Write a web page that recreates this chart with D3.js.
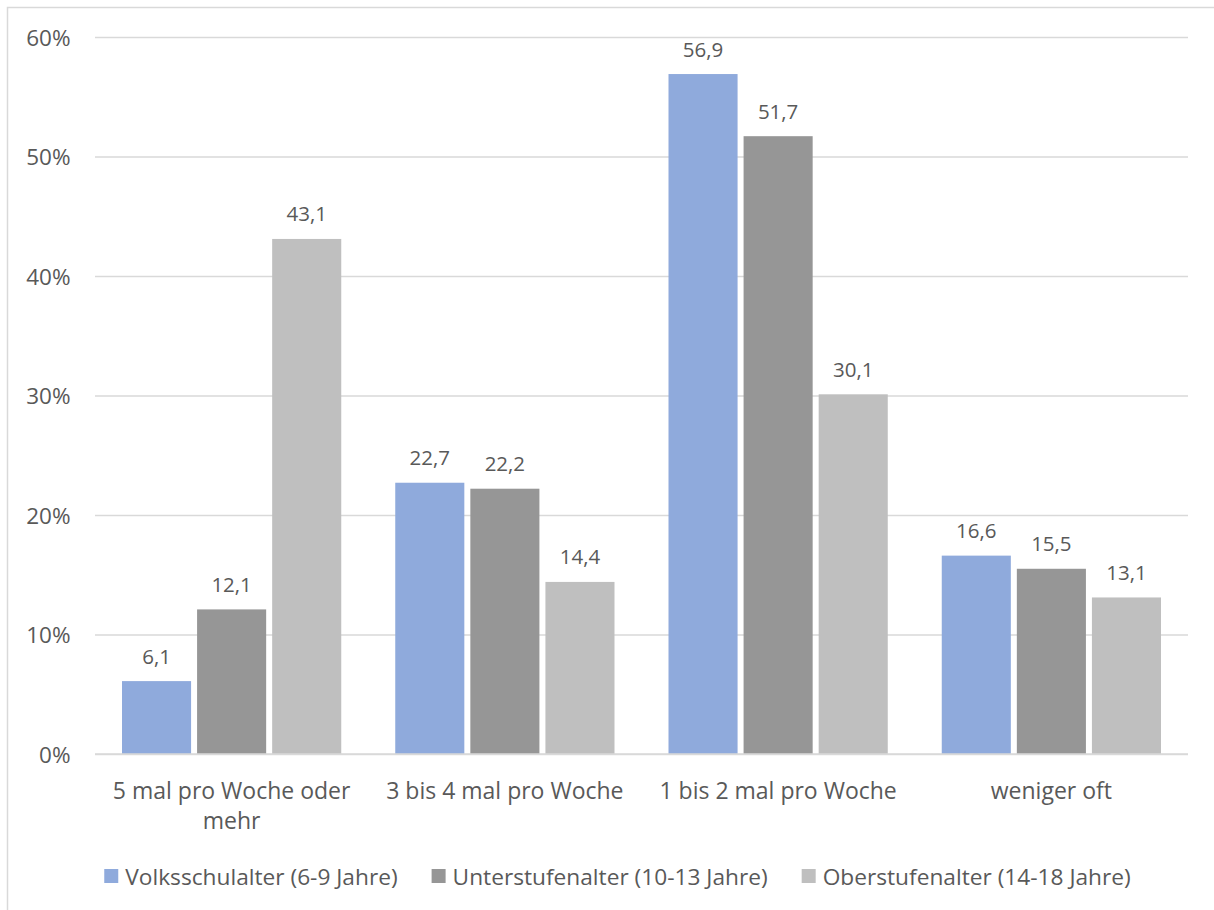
<!DOCTYPE html>
<html>
<head>
<meta charset="utf-8">
<script src="https://cdn.jsdelivr.net/npm/d3@7"></script>
<style>
  html, body { margin: 0; padding: 0; background: #fff; }
  svg { display: block; }
  text { font-family: "Open Sans", "Noto Sans", sans-serif; fill: #595959; }
</style>
</head>
<body>
<svg id="chart" width="1214" height="910"></svg>
<script>
const categories = ["5 mal pro Woche oder mehr", "3 bis 4 mal pro Woche", "1 bis 2 mal pro Woche", "weniger oft"];
const seriesNames = ["Volksschulalter (6-9 Jahre)", "Unterstufenalter (10-13 Jahre)", "Oberstufenalter (14-18 Jahre)"];
const volksschule = [6.1, 22.7, 56.9, 16.6];
const unterstufe = [12.1, 22.2, 51.7, 15.5];
const oberstufe = [43.1, 14.4, 30.1, 13.1];
const yTicks = [0, 10, 20, 30, 40, 50, 60];
const colors = ["#8FAADC", "#969696", "#BFBFBF"];

const seriesValues = [volksschule, unterstufe, oberstufe];
const data = categories.map((c, i) => ({
  category: c,
  values: seriesNames.map((s, j) => ({ series: s, value: seriesValues[j][i], idx: j }))
}));

const svg = d3.select("#chart");

// outer chart border
svg.append("rect")
  .attr("x", 7.5).attr("y", 7.5)
  .attr("width", 1240).attr("height", 940)
  .attr("fill", "#fff")
  .attr("stroke", "#d9d9d9").attr("stroke-width", 1.5);

const plot = { left: 95, right: 1188, top: 37, bottom: 754 };

const y = d3.scaleLinear().domain([0, 60]).range([plot.bottom, plot.top]);
const x0 = d3.scaleBand().domain(categories).range([plot.left, plot.right]).padding(0);
const groupPad = 27;
const x1 = d3.scaleBand().domain(seriesNames)
  .range([groupPad, x0.bandwidth() - groupPad]).paddingInner(0.08).paddingOuter(0);

// y axis with gridlines
const yAxis = d3.axisLeft(y)
  .tickValues(yTicks)
  .tickFormat(d => d + "%")
  .tickSizeInner(-(plot.right - plot.left))
  .tickSizeOuter(0)
  .tickPadding(24.5);

const gy = svg.append("g")
  .attr("transform", `translate(${plot.left},0)`)
  .call(yAxis);
gy.select(".domain").remove();
gy.selectAll(".tick line").attr("stroke", "#d9d9d9").attr("stroke-width", 1.5);
gy.selectAll(".tick text")
  .attr("dy", "0.36em")
  .style("font-size", "22.5px")
  .style("fill", "#595959");

// bars
const groups = svg.append("g").selectAll("g")
  .data(data).join("g")
  .attr("transform", d => `translate(${x0(d.category)},0)`);

groups.selectAll("rect")
  .data(d => d.values).join("rect")
  .attr("x", d => x1(d.series))
  .attr("width", x1.bandwidth())
  .attr("y", d => y(d.value))
  .attr("height", d => y(0) - y(d.value))
  .attr("fill", d => colors[d.idx]);

// data labels
groups.selectAll("text.lbl")
  .data(d => d.values).join("text")
  .attr("class", "lbl")
  .attr("x", d => x1(d.series) + x1.bandwidth() / 2)
  .attr("y", d => y(d.value) - 17.5)
  .attr("text-anchor", "middle")
  .style("font-size", "20.5px")
  .text(d => d3.format(".1f")(d.value).replace(".", ","));

// category labels (x axis) with wrapping
const xAxis = d3.axisBottom(x0).tickSize(0).tickPadding(0);
const gx = svg.append("g")
  .attr("transform", `translate(0,${plot.bottom})`)
  .call(xAxis);
gx.select(".domain").remove();
gx.selectAll(".tick text")
  .style("font-size", "23px")
  .attr("y", 0).attr("dy", null)
  .each(function(d) {
    const t = d3.select(this);
    const words = d.split(" ");
    t.text(null);
    const maxW = x0.bandwidth() - 10;
    let line = [];
    let lines = [];
    let tspan = t.append("tspan");
    words.forEach(w => {
      line.push(w);
      tspan.text(line.join(" "));
      if (tspan.node().getComputedTextLength() > maxW && line.length > 1) {
        line.pop();
        lines.push(line.join(" "));
        line = [w];
        tspan.text(w);
      }
    });
    lines.push(line.join(" "));
    t.text(null);
    lines.forEach((ln, i) => {
      t.append("tspan").attr("x", 0).attr("y", 45 + i * 30).text(ln);
    });
  });

// baseline
svg.append("line")
  .attr("x1", plot.left).attr("x2", plot.right)
  .attr("y1", y(0)).attr("y2", y(0))
  .attr("stroke", "#d9d9d9").attr("stroke-width", 1.5);

// legend
const legend = svg.append("g");
const items = legend.selectAll("g").data(seriesNames).join("g");
items.append("rect")
  .attr("width", 14).attr("height", 14)
  .attr("y", -7)
  .attr("fill", (d, i) => colors[i]);
items.append("text")
  .attr("x", 21)
  .attr("y", 8.5)
  .style("font-size", "22.7px")
  .text(d => d);
let xpos = 0;
items.each(function() {
  const g = d3.select(this);
  g.attr("transform", `translate(${xpos},0)`);
  const w = 21 + g.select("text").node().getComputedTextLength();
  xpos += w + 34;
});
const totalW = xpos - 34;
legend.attr("transform", `translate(${617.5 - totalW / 2},876)`);
</script>
</body>
</html>
